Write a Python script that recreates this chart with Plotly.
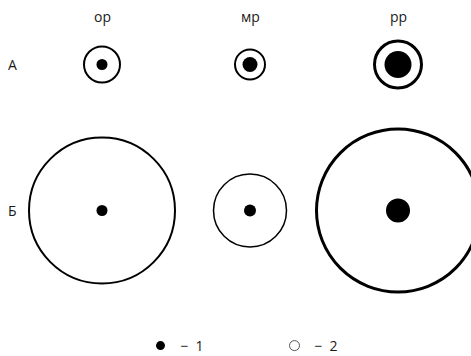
import plotly.graph_objects as go

# ---- data ----
columns = ["ор", "мр", "рр"]
rows = ["А", "Б"]
# diameters of the open (outer) circles, per row
outer_A = [36, 30, 47]
outer_B = [146, 73, 163]
# diameters of the filled (inner) circles, per row
inner_A = [11, 15, 27]
inner_B = [11, 12, 24]
legend_labels = ["−\u20021", "−\u20022"]

# ---- styling ----
FONT = "Open Sans, Liberation Sans, sans-serif"
TXT = "#1a1a1a"
outer_lw = [2, 2, 3, 2, 1.5, 3]

xs = [i for _ in rows for i in range(len(columns))]
ys = [j for j in range(len(rows)) for _ in columns]
outer = outer_A + outer_B
inner = inner_A + inner_B

fig = go.Figure()
fig.add_trace(go.Scatter(
    x=xs, y=ys, mode="markers", showlegend=False, cliponaxis=False,
    marker=dict(symbol="circle", size=outer, color="rgba(0,0,0,0)", opacity=1,
                line=dict(color="black", width=outer_lw)),
    hoverinfo="skip"))
fig.add_trace(go.Scatter(
    x=xs, y=ys, mode="markers", showlegend=False, cliponaxis=False,
    marker=dict(symbol="circle", size=inner, color="black", opacity=1, line=dict(width=0)),
    hoverinfo="skip"))

# legend entries
fig.add_trace(go.Scatter(x=[None], y=[None], mode="markers", name=legend_labels[0],
                         marker=dict(symbol="circle", size=9, color="black", line=dict(width=0))))
fig.add_trace(go.Scatter(x=[None], y=[None], mode="markers", name=legend_labels[1],
                         marker=dict(symbol="circle", size=10, color="white",
                                     line=dict(color="#555", width=1))))

W, H = 471, 356
px_per_x = 148.0
x0 = -102.0 / px_per_x
px_per_y = 146.0
y_top = -64.5 / px_per_y

annotations = []
for i, c in enumerate(columns):
    annotations.append(dict(x=i, y=1 - 16 / H, xref="x", yref="paper", text=c,
                            showarrow=False, font=dict(family=FONT, size=14, color=TXT),
                            xanchor="center", yanchor="middle"))
for j, r in enumerate(rows):
    annotations.append(dict(x=12 / W, y=j, xref="paper", yref="y", text=r,
                            showarrow=False, font=dict(family=FONT, size=14, color=TXT),
                            xanchor="center", yanchor="middle"))

fig.update_layout(
    width=W, height=H,
    margin=dict(l=0, r=0, t=0, b=0, autoexpand=False),
    paper_bgcolor="white", plot_bgcolor="white",
    xaxis=dict(range=[x0, x0 + W / px_per_x], visible=False, fixedrange=True),
    yaxis=dict(range=[y_top + H / px_per_y, y_top], visible=False, fixedrange=True),
    annotations=annotations,
    showlegend=True,
    legend=dict(orientation="h", x=140.5 / W, xanchor="left", y=-6 / H, yanchor="bottom",
                entrywidth=89, font=dict(family=FONT, size=14, color=TXT),
                bgcolor="rgba(0,0,0,0)"),
    font=dict(family=FONT),
)

fig.write_html("out.html", config={"displayModeBar": False},
               post_script="document.body.style.margin='0';")
